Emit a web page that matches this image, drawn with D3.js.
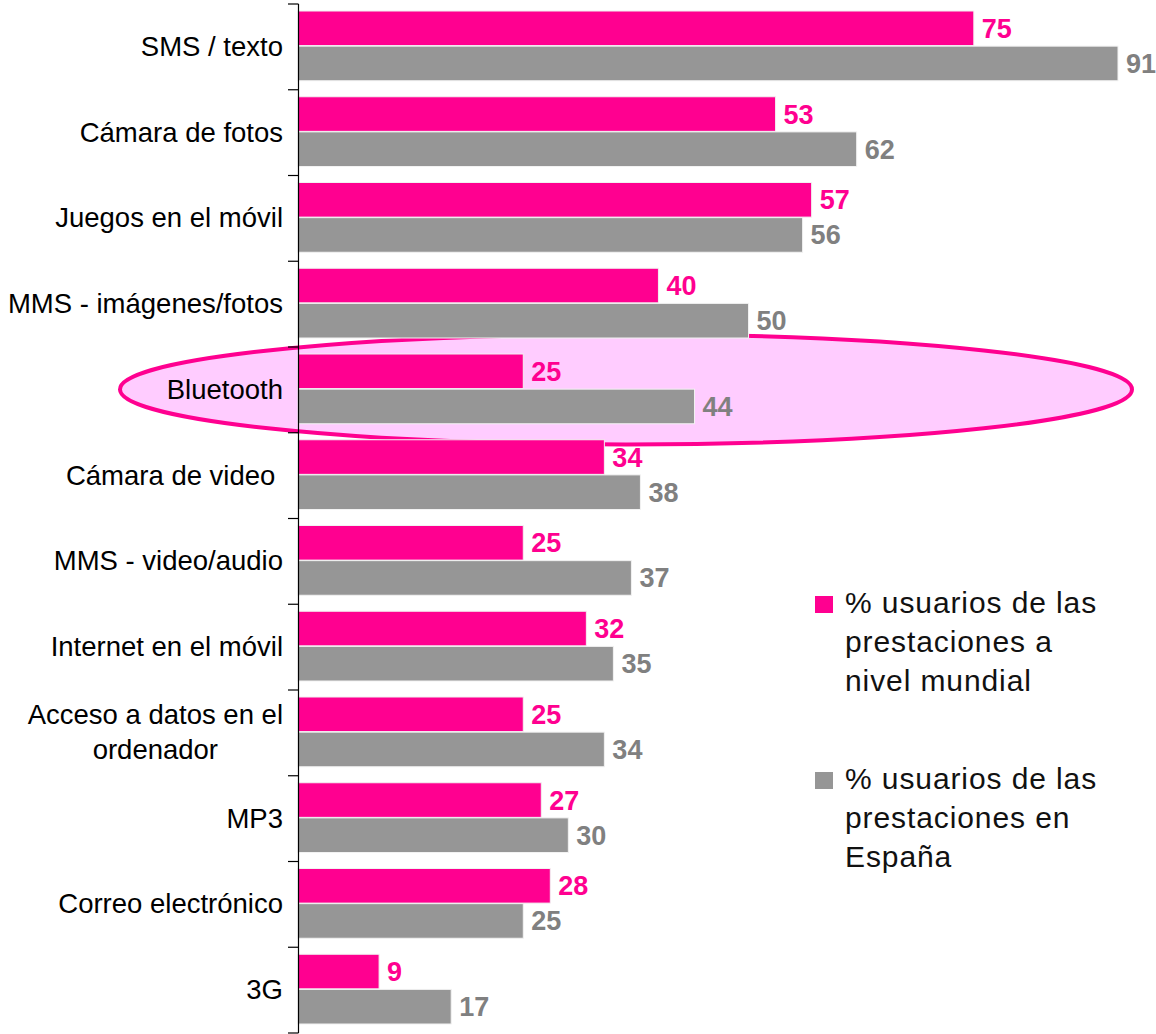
<!DOCTYPE html>
<html>
<head>
<meta charset="utf-8">
<script src="https://cdn.jsdelivr.net/npm/d3@7"></script>
<style>
  html, body { margin: 0; padding: 0; background: #fff; }
  text { font-family: "Liberation Sans", Arial, sans-serif; }
</style>
</head>
<body>
<svg id="chart" width="1156" height="1034"></svg>
<script>
const categories = [
  "SMS / texto",
  "Cámara de fotos",
  "Juegos en el móvil",
  "MMS - imágenes/fotos",
  "Bluetooth",
  "Cámara de video ",
  "MMS - video/audio",
  "Internet en el móvil",
  "Acceso a datos en el|ordenador",
  "MP3",
  "Correo electrónico",
  "3G"
];
const mundial = [75, 53, 57, 40, 25, 34, 25, 32, 25, 27, 28, 9];
const espana = [91, 62, 56, 50, 44, 38, 37, 35, 34, 30, 25, 17];
const seriesNames = ["mundial", "espana"];
const legendLabels = [
  ["% usuarios de las", "prestaciones a", "nivel mundial"],
  ["% usuarios de las", "prestaciones en", "España"]
];
const highlighted = "Bluetooth";

const PINK = "#FF0090";
const GRAY = "#969696";
const GRAY_TEXT = "#808080";

const svg = d3.select("#chart");

const x = d3.scaleLinear().domain([0, 91]).range([298, 1118]);
const y = d3.scaleBand().domain(categories).range([4, 1033]).paddingInner(0).paddingOuter(0);
const ySub = d3.scaleBand().domain(seriesNames).range([7, y.bandwidth() - 9]).paddingInner(0.015);

// Highlight ellipse (behind bars)
svg.append("ellipse")
  .attr("cx", 626)
  .attr("cy", y(highlighted) + y.bandwidth() / 2 - 0.5)
  .attr("rx", 506)
  .attr("ry", 55)
  .attr("fill", "#FFCCFF")
  .attr("stroke", PINK)
  .attr("stroke-width", 4);

const rows = categories.map((c, i) => ({ cat: c, mundial: mundial[i], espana: espana[i] }));

const g = svg.append("g");
const seriesColor = { mundial: PINK, espana: GRAY };
const labelColor = { mundial: PINK, espana: GRAY_TEXT };

seriesNames.forEach(s => {
  g.selectAll("rect." + s)
    .data(rows)
    .enter()
    .append("rect")
    .attr("class", s)
    .attr("x", x(0))
    .attr("y", d => y(d.cat) + ySub(s))
    .attr("width", d => x(d[s]) - x(0))
    .attr("height", ySub.bandwidth())
    .attr("fill", seriesColor[s])
    .attr("stroke", "#f2f2f2")
    .attr("stroke-width", 1);

  g.selectAll("text." + s)
    .data(rows)
    .enter()
    .append("text")
    .attr("class", s)
    .attr("x", d => x(d[s]) + 8)
    .attr("y", d => y(d.cat) + ySub(s) + ySub.bandwidth() / 2 + 9.5)
    .attr("fill", labelColor[s])
    .attr("font-size", "27px")
    .attr("font-weight", "bold")
    .text(d => d[s]);
});

// Axis
const axis = d3.axisLeft(y).tickSize(0).tickFormat("");
const axG = svg.append("g").attr("transform", "translate(298,0)").call(axis);
axG.select(".domain").attr("stroke", "#000").attr("stroke-width", 1.2).attr("d", `M0.5,${y.range()[0]}V${y.range()[1]}`);
// band boundary tick marks
const boundaries = categories.map(c => y(c)).concat([y.range()[1]]);
axG.selectAll("line.bnd")
  .data(boundaries)
  .enter()
  .append("line")
  .attr("class", "bnd")
  .attr("x1", -10).attr("x2", 0.5)
  .attr("y1", d => d).attr("y2", d => d)
  .attr("stroke", "#000").attr("stroke-width", 1.2);

// Category labels
const labG = svg.append("g");
categories.forEach(c => {
  const lines = c.split("|");
  const cy = y(c) + y.bandwidth() / 2;
  const lh = 35;
  const first = cy + 9 - (lines.length - 1) * lh / 2;
  const t0 = labG.append("text")
    .attr("x", 283)
    .attr("y", first)
    .attr("text-anchor", "end")
    .attr("font-size", "27.5px")
    .attr("fill", "#000")
    .style("white-space", "pre")
    .text(lines[0]);
  if (lines.length > 1) {
    const w = t0.node().getComputedTextLength();
    for (let k = 1; k < lines.length; k++) {
      labG.append("text")
        .attr("x", 283 - w / 2)
        .attr("y", first + k * lh)
        .attr("text-anchor", "middle")
        .attr("font-size", "27.5px")
        .attr("fill", "#000")
        .text(lines[k]);
    }
  }
});

// Legend
const legendTop = [613, 789];
const legendColors = [PINK, GRAY];
legendLabels.forEach((lines, i) => {
  const lg = svg.append("g");
  lg.append("rect")
    .attr("x", 815).attr("y", legendTop[i] - 17)
    .attr("width", 18).attr("height", 17)
    .attr("fill", legendColors[i]);
  lines.forEach((ln, k) => {
    lg.append("text")
      .attr("x", 845)
      .attr("y", legendTop[i] + k * 39)
      .attr("font-size", "30px")
      .attr("letter-spacing", "0.9px")
      .attr("fill", "#111")
      .text(ln);
  });
});
</script>
</body>
</html>
